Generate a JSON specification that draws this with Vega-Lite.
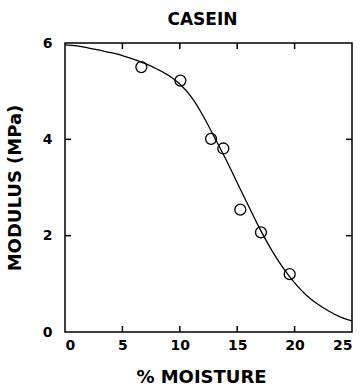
{
  "$schema": "https://vega.github.io/schema/vega-lite/v6.json",
  "width": 287,
  "height": 289,
  "autosize": "none",
  "padding": {"left": 65, "top": 43, "right": 10, "bottom": 57},
  "background": "white",
  "title": {"text": "CASEIN", "font": "DejaVu Sans", "fontSize": 17, "fontWeight": "bold", "color": "black", "offset": 7, "anchor": "middle", "dx": -6},
  "config": {
    "view": {"stroke": "black", "strokeWidth": 1.5},
    "axis": {
      "domain": false, "ticks": false, "grid": false,
      "labelFont": "DejaVu Sans", "labelFontSize": 14, "labelFontWeight": "bold", "labelColor": "black",
      "titleFont": "DejaVu Sans", "titleFontSize": 18, "titleFontWeight": "bold", "titleColor": "black"
    }
  },
  "datasets": {
    "pts": [
      {"moisture": 6.65, "modulus": 5.5},
      {"moisture": 10.05, "modulus": 5.22},
      {"moisture": 12.72, "modulus": 4.01},
      {"moisture": 13.79, "modulus": 3.81},
      {"moisture": 15.27, "modulus": 2.54},
      {"moisture": 17.07, "modulus": 2.07},
      {"moisture": 19.57, "modulus": 1.2}
    ],
    "fit": [
      {"moisture": 0, "modulus": 5.96},
      {"moisture": 1, "modulus": 5.94},
      {"moisture": 2, "modulus": 5.9},
      {"moisture": 3, "modulus": 5.85},
      {"moisture": 4, "modulus": 5.8},
      {"moisture": 5, "modulus": 5.74},
      {"moisture": 6, "modulus": 5.66},
      {"moisture": 7, "modulus": 5.57},
      {"moisture": 8, "modulus": 5.46},
      {"moisture": 9, "modulus": 5.33},
      {"moisture": 10, "modulus": 5.15},
      {"moisture": 11, "modulus": 4.88},
      {"moisture": 12, "modulus": 4.5},
      {"moisture": 13, "modulus": 4.05},
      {"moisture": 14, "modulus": 3.59},
      {"moisture": 15, "modulus": 3.1},
      {"moisture": 16, "modulus": 2.61},
      {"moisture": 17, "modulus": 2.13},
      {"moisture": 18, "modulus": 1.7},
      {"moisture": 19, "modulus": 1.33},
      {"moisture": 20, "modulus": 1.02},
      {"moisture": 21, "modulus": 0.77},
      {"moisture": 22, "modulus": 0.58},
      {"moisture": 23, "modulus": 0.43},
      {"moisture": 24, "modulus": 0.31},
      {"moisture": 25, "modulus": 0.23}
    ],
    "xticks": [
      {"moisture": 5}, {"moisture": 10}, {"moisture": 15}, {"moisture": 20}
    ],
    "yticks": [
      {"modulus": 2}, {"modulus": 4}
    ]
  },
  "layer": [
    {
      "data": {"name": "fit"},
      "mark": {"type": "line", "color": "black", "strokeWidth": 1.3, "interpolate": "monotone"},
      "encoding": {
        "x": {"field": "moisture", "type": "quantitative", "scale": {"domain": [0, 25], "nice": false},
              "axis": {"values": [0, 5, 10, 15, 20, 25], "ticks": false, "title": "% MOISTURE", "labelPadding": 6, "titlePadding": 16, "titleX": 136}},
        "y": {"field": "modulus", "type": "quantitative", "scale": {"domain": [0, 6], "nice": false},
              "axis": {"values": [0, 2, 4, 6], "ticks": false, "title": "MODULUS (MPa)", "labelPadding": 13, "titlePadding": 18}}
      }
    },
    {
      "data": {"name": "pts"},
      "mark": {"type": "point", "shape": "circle", "filled": false, "color": "black", "size": 120, "strokeWidth": 1.3, "opacity": 1},
      "encoding": {
        "x": {"field": "moisture", "type": "quantitative", "scale": {"domain": [0, 25], "nice": false}},
        "y": {"field": "modulus", "type": "quantitative", "scale": {"domain": [0, 6], "nice": false}}
      }
    },
    {
      "data": {"name": "xticks"},
      "mark": {"type": "tick", "orient": "vertical", "color": "black", "opacity": 1, "size": 6, "thickness": 1.5, "yOffset": -3},
      "encoding": {
        "x": {"field": "moisture", "type": "quantitative", "scale": {"domain": [0, 25], "nice": false}},
        "y": {"datum": 0, "type": "quantitative", "scale": {"domain": [0, 6], "nice": false}}
      }
    },
    {
      "data": {"name": "xticks"},
      "mark": {"type": "tick", "orient": "vertical", "color": "black", "opacity": 1, "size": 6, "thickness": 1.5, "yOffset": 3},
      "encoding": {
        "x": {"field": "moisture", "type": "quantitative", "scale": {"domain": [0, 25], "nice": false}},
        "y": {"datum": 6, "type": "quantitative", "scale": {"domain": [0, 6], "nice": false}}
      }
    },
    {
      "data": {"name": "yticks"},
      "mark": {"type": "tick", "orient": "horizontal", "color": "black", "opacity": 1, "size": 6, "thickness": 1.5, "xOffset": 3},
      "encoding": {
        "y": {"field": "modulus", "type": "quantitative", "scale": {"domain": [0, 6], "nice": false}},
        "x": {"datum": 0, "type": "quantitative", "scale": {"domain": [0, 25], "nice": false}}
      }
    },
    {
      "data": {"name": "yticks"},
      "mark": {"type": "tick", "orient": "horizontal", "color": "black", "opacity": 1, "size": 6, "thickness": 1.5, "xOffset": -3},
      "encoding": {
        "y": {"field": "modulus", "type": "quantitative", "scale": {"domain": [0, 6], "nice": false}},
        "x": {"datum": 25, "type": "quantitative", "scale": {"domain": [0, 25], "nice": false}}
      }
    }
  ]
}
